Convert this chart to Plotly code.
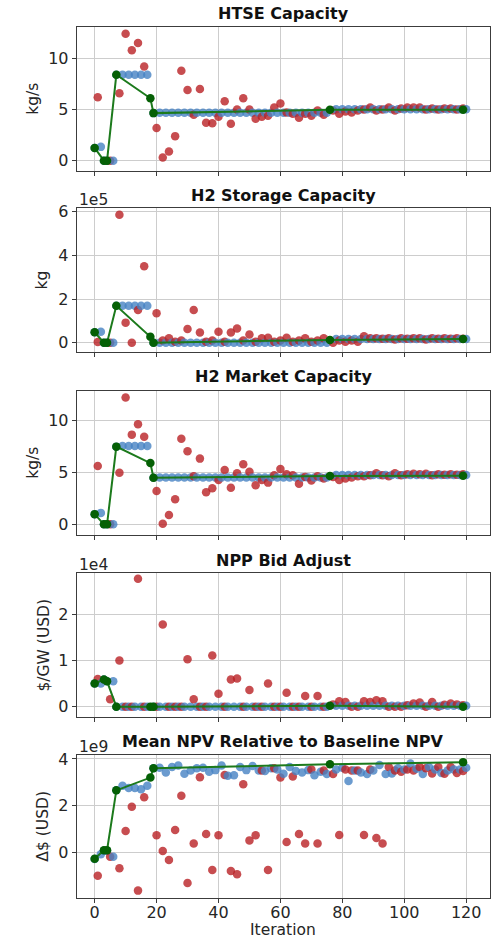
import plotly.graph_objects as go

# ---------------------------------------------------------------------------
# Iteration indices
# ---------------------------------------------------------------------------
# centre (current design) evaluations
center_iters = [0, 2, 3, 4, 6, 7, 9, 11, 13, 15, 17, 19] + list(range(21, 76, 2)) + list(range(78, 121, 2))
# perturbed trial evaluations
trial_iters = [1, 5, 8, 10, 12, 14, 16] + list(range(20, 75, 2)) + list(range(77, 120, 2))
# accepted (best-so-far) designs
best_iters = [0, 3, 4, 7, 18, 19, 76, 119]

# ---------------------------------------------------------------------------
# HTSE capacity (kg/s)
# ---------------------------------------------------------------------------
htse_center_early = [1.25, 1.35, 0.0, 0.0, 0.0, 8.4, 8.4, 8.4, 8.4, 8.4, 8.4, 4.65]
htse_center_levels = [4.68, 5.02]
htse_trial = [6.2, 0.0, 6.6, 12.4, 10.8, 11.5, 9.2,
              3.2, 0.3, 0.9, 2.4, 8.8, 6.9, 4.5, 7.0, 3.7, 3.65, 4.3, 5.8, 3.6, 5.0,
              6.1, 5.0, 4.1, 4.3, 4.4, 5.2, 5.6, 4.7, 4.6, 4.2, 4.6, 4.4, 4.9, 4.5,
              4.9, 4.6, 4.8, 4.7, 4.9, 5.0, 5.2, 4.9, 5.0, 5.2, 4.9, 5.1, 5.2, 5.2,
              5.2, 5.0, 5.1, 5.0, 5.1, 5.1, 5.0, 5.1]
htse_best = [1.25, 0.0, 0.0, 8.4, 6.1, 4.65, 4.97, 4.97]

# ---------------------------------------------------------------------------
# H2 storage capacity (kg)
# ---------------------------------------------------------------------------
h2s_center_early = [0.48e5, 0.5e5, 0.0, 0.0, 0.0, 1.69e5, 1.69e5, 1.69e5, 1.69e5, 1.69e5, 1.69e5, 0.0]
h2s_center_levels = [0.0, 0.17e5]
h2s_trial = [0.03e5, 0.0, 5.85e5, 0.92e5, 0.0, 1.5e5, 3.5e5,
             1.35e5, 0.1e5, 0.2e5, 0.05e5, 0.1e5, 0.63e5, 1.5e5, 0.47e5, 0.05e5, 0.1e5,
             0.5e5, 0.05e5, 0.47e5, 0.65e5, 0.1e5, 0.38e5, 0.05e5, 0.2e5, 0.23e5, 0.05e5,
             0.1e5, 0.23e5, 0.05e5, 0.1e5, 0.2e5, 0.05e5, 0.1e5, 0.2e5,
             0.0, 0.1e5, 0.05e5, 0.1e5, 0.05e5, 0.3e5, 0.2e5, 0.2e5, 0.18e5, 0.2e5,
             0.15e5, 0.2e5, 0.18e5, 0.2e5, 0.2e5, 0.15e5, 0.2e5, 0.18e5, 0.2e5, 0.18e5,
             0.2e5, 0.18e5]
h2s_best = [0.48e5, 0.0, 0.0, 1.69e5, 0.27e5, 0.0, 0.13e5, 0.17e5]

# ---------------------------------------------------------------------------
# H2 market capacity (kg/s)
# ---------------------------------------------------------------------------
h2m_center_early = [0.98, 1.1, 0.0, 0.0, 0.0, 7.45, 7.5, 7.5, 7.5, 7.5, 7.5, 4.47]
h2m_center_levels = [4.5, 4.72]
h2m_trial = [5.6, 0.0, 4.95, 12.15, 8.6, 9.6, 8.4,
             3.2, 0.06, 0.9, 2.4, 8.2, 7.0, 4.6, 6.3, 3.07, 3.45, 4.25, 5.2, 3.5, 4.9,
             5.75, 5.05, 3.74, 4.25, 4.0, 4.7, 5.3, 4.8, 4.7, 3.9, 4.55, 4.2, 4.6, 4.4,
             4.55, 4.25, 4.4, 4.5, 4.6, 4.6, 4.7, 4.9, 4.7, 4.6, 4.9, 4.7, 4.8, 4.85,
             4.8, 4.85, 4.7, 4.8, 4.75, 4.8, 4.75, 4.8]
h2m_best = [0.98, 0.0, 0.0, 7.45, 5.87, 4.47, 4.63, 4.65]

# ---------------------------------------------------------------------------
# NPP bid adjustment ($/GW)
# ---------------------------------------------------------------------------
npp_center_early = [0.5e4, 0.5e4, 0.59e4, 0.55e4, 0.55e4, 0.0, 0.0, 0.0, 0.0, 0.0, 0.0, 0.0]
npp_center_levels = [0.0, 0.02e4]
npp_trial = [0.6e4, 0.16e4, 1.0e4, 0.0, 0.0, 2.77e4, 0.0,
             0.0, 1.78e4, 0.0, 0.0, 0.0, 1.03e4, 0.16e4, 0.0, 0.0, 1.11e4, 0.28e4,
             0.0, 0.59e4, 0.61e4, 0.0, 0.36e4, 0.0, 0.0, 0.5e4, 0.0, 0.0, 0.3e4,
             0.0, 0.0, 0.23e4, 0.0, 0.23e4, 0.0,
             0.05e4, 0.12e4, 0.1e4, 0.0, 0.0, 0.12e4, 0.1e4, 0.14e4, 0.12e4, 0.0,
             0.0, 0.0, 0.03e4, 0.07e4, 0.09e4, 0.0, 0.1e4, 0.0, 0.04e4, 0.07e4,
             0.05e4, 0.03e4]
npp_best = [0.5e4, 0.59e4, 0.55e4, 0.0, 0.0, 0.0, 0.02e4, 0.0]

# ---------------------------------------------------------------------------
# Mean NPV relative to baseline NPV ($)
# ---------------------------------------------------------------------------
npv_center = [v * 1e9 for v in [
    -0.3, -0.1, 0.05, 0.05, -0.2, 2.65, 2.85, 2.75, 2.75, 2.7, 2.85, 3.6,
    3.62, 3.42, 3.65, 3.72, 3.36, 3.5, 3.6, 3.62, 3.45, 3.52, 3.72, 3.28, 3.3, 3.65,
    3.52, 3.7, 3.5, 3.48, 3.6, 3.55, 3.36, 3.65, 3.48, 3.42, 3.52, 3.3, 3.45, 3.35,
    3.55, 3.62, 3.05, 3.5, 3.42, 3.35, 3.5, 3.74, 3.35, 3.38, 3.6, 3.55, 3.8, 3.58,
    3.35, 3.65, 3.55, 3.4, 3.5, 3.55, 3.55, 3.62]]
npv_trial = [v * 1e9 for v in [
    -1.02, -0.2, -0.7, 0.9, 1.95, -1.66, 2.35,
    0.72, 0.04, -0.34, 0.95, 2.42, -1.33, 0.37, 3.21, 0.77, -0.77, 0.72, 3.31,
    -0.82, -0.96, 2.91, 0.5, 0.72, 3.5, -0.77, 3.6, 3.2, 0.43, 3.25, 0.77, 0.37,
    3.55, 0.37, 3.5,
    3.35, 0.73, 3.55, 3.5, 3.5, 0.73, 3.55, 0.6, 0.37, 3.65, 3.5, 3.45, 3.55, 3.5,
    3.65, 3.6, 3.38, 3.65, 3.36, 3.65, 3.4, 3.48]]
npv_best = [v * 1e9 for v in [-0.29, 0.08, 0.08, 2.65, 3.2, 3.6, 3.77, 3.86]]

# axis tick labels
x_ticks = [0, 20, 40, 60, 80, 100, 120]
cap_ticks = ["0", "5", "10"]
h2s_ticks = ["0", "2", "4", "6"]
npp_ticks = ["0", "1", "2"]
npv_ticks = ["0", "2", "4"]


def held_design(early, levels):
    """Centre design held between accepted updates (before / after iteration 76)."""
    late = [levels[0] if it < 76 else levels[1] for it in center_iters[len(early):]]
    return early + late


panels = [
    dict(title="HTSE Capacity", ylabel="kg/s", offset=None,
         center=held_design(htse_center_early, htse_center_levels), trial=htse_trial, best=htse_best,
         yrange=[-0.98, 13.1], tickvals=[0, 5, 10], ticktext=cap_ticks,
         top=26.7, bottom=170.7, title_y=14, ylabel_x=33),
    dict(title="H2 Storage Capacity", ylabel="kg", offset="1e5",
         center=held_design(h2s_center_early, h2s_center_levels), trial=h2s_trial, best=h2s_best,
         yrange=[-0.41e5, 6.15e5], tickvals=[0, 2e5, 4e5, 6e5], ticktext=h2s_ticks,
         top=208.3, bottom=351.7, title_y=196, ylabel_x=41.5),
    dict(title="H2 Market Capacity", ylabel="kg/s", offset=None,
         center=held_design(h2m_center_early, h2m_center_levels), trial=h2m_trial, best=h2m_best,
         yrange=[-1.02, 12.81], tickvals=[0, 5, 10], ticktext=cap_ticks,
         top=390.7, bottom=535.0, title_y=377, ylabel_x=33),
    dict(title="NPP Bid Adjust", ylabel="$/GW (USD)", offset="1e4",
         center=held_design(npp_center_early, npp_center_levels), trial=npp_trial, best=npp_best,
         yrange=[-0.217e4, 2.89e4], tickvals=[0, 1e4, 2e4], ticktext=npp_ticks,
         top=573.3, bottom=716.7, title_y=560, ylabel_x=43.5),
    dict(title="Mean NPV Relative to Baseline NPV", ylabel="Δ$ (USD)", offset="1e9",
         center=npv_center, trial=npv_trial, best=npv_best,
         yrange=[-1.99e9, 4.17e9], tickvals=[0, 2e9, 4e9], ticktext=npv_ticks,
         top=755.0, bottom=898.3, title_y=741, ylabel_x=43),
]

W, H = 500, 940
LEFT, RIGHT = 76.7, 490.0
FONT = "DejaVu Sans"
TXT = "#262626"
BLUE = "rgba(70,130,195,0.8)"
RED = "rgba(185,32,36,0.8)"
GREEN_LINE = "#1c7a1c"
GREEN_MARK = "#056005"
GRID = "#cdcdcd"
FRAME = "#3c3c3c"


def py(px):
    return 1 - px / H


fig = go.Figure()
layout = dict(
    width=W, height=H,
    margin=dict(l=0, r=0, t=0, b=0),
    paper_bgcolor="white", plot_bgcolor="white",
    showlegend=False,
    font=dict(family=FONT, size=15.5, color=TXT),
)
annotations = []

for i, p in enumerate(panels, start=1):
    sx = "" if i == 1 else str(i)
    xref, yref = "x" + sx, "y" + sx

    # centre and trial evaluations drawn in iteration order
    pts = [(it, v, BLUE) for it, v in zip(center_iters, p["center"])]
    pts += [(it, v, RED) for it, v in zip(trial_iters, p["trial"])]
    pts.sort(key=lambda t: t[0])
    fig.add_trace(go.Scatter(
        x=[t[0] for t in pts], y=[t[1] for t in pts], mode="markers",
        marker=dict(size=8.5, color=[t[2] for t in pts], line=dict(width=0)),
        xaxis=xref, yaxis=yref, hoverinfo="x+y",
    ))
    # accepted designs
    fig.add_trace(go.Scatter(
        x=best_iters, y=p["best"], mode="lines+markers",
        line=dict(color=GREEN_LINE, width=2),
        marker=dict(size=8.5, color=GREEN_MARK, line=dict(width=0)),
        xaxis=xref, yaxis=yref, hoverinfo="x+y",
    ))

    last = i == len(panels)
    layout["xaxis" + sx] = dict(
        domain=[LEFT / W, RIGHT / W], anchor=yref, range=[-5.8, 127.7],
        tickvals=x_ticks, ticktext=[str(t) for t in x_ticks], showticklabels=last,
        ticks="outside", ticklen=4, tickwidth=1, tickcolor=FRAME, ticklabelstandoff=-5,
        showgrid=True, gridcolor=GRID, gridwidth=1, zeroline=False,
        showline=True, mirror=True, linecolor=FRAME, linewidth=1,
        tickfont=dict(size=16, color=TXT), automargin=False,
    )
    layout["yaxis" + sx] = dict(
        domain=[py(p["bottom"]), py(p["top"])], anchor=xref, range=p["yrange"],
        tickvals=p["tickvals"], ticktext=p["ticktext"],
        ticks="outside", ticklen=4, tickwidth=1, tickcolor=FRAME,
        showgrid=True, gridcolor=GRID, gridwidth=1, zeroline=False,
        showline=True, mirror=True, linecolor=FRAME, linewidth=1,
        tickfont=dict(size=16, color=TXT), automargin=False,
    )

    annotations.append(dict(
        text="<b>" + p["title"] + "</b>", x=(LEFT + RIGHT) / 2 / W, y=py(p["title_y"]),
        xref="paper", yref="paper", xanchor="center", yanchor="middle", showarrow=False,
        font=dict(family=FONT, size=16, color="#111111"),
    ))
    annotations.append(dict(
        text=p["ylabel"], x=p["ylabel_x"] / W, y=py((p["top"] + p["bottom"]) / 2),
        xref="paper", yref="paper", xanchor="center", yanchor="middle", showarrow=False,
        textangle=-90, font=dict(family=FONT, size=15.5, color=TXT),
    ))
    if p["offset"]:
        annotations.append(dict(
            text=p["offset"], x=LEFT / W, y=py(p["top"] - 8.5),
            xref="paper", yref="paper", xanchor="left", yanchor="middle", showarrow=False,
            font=dict(family=FONT, size=15.5, color=TXT),
        ))

annotations.append(dict(
    text="Iteration", x=(LEFT + RIGHT) / 2 / W, y=py(929.5),
    xref="paper", yref="paper", xanchor="center", yanchor="middle", showarrow=False,
    font=dict(family=FONT, size=15.5, color=TXT),
))
layout["annotations"] = annotations
fig.update_layout(**layout)
fig.write_html("out.html")
